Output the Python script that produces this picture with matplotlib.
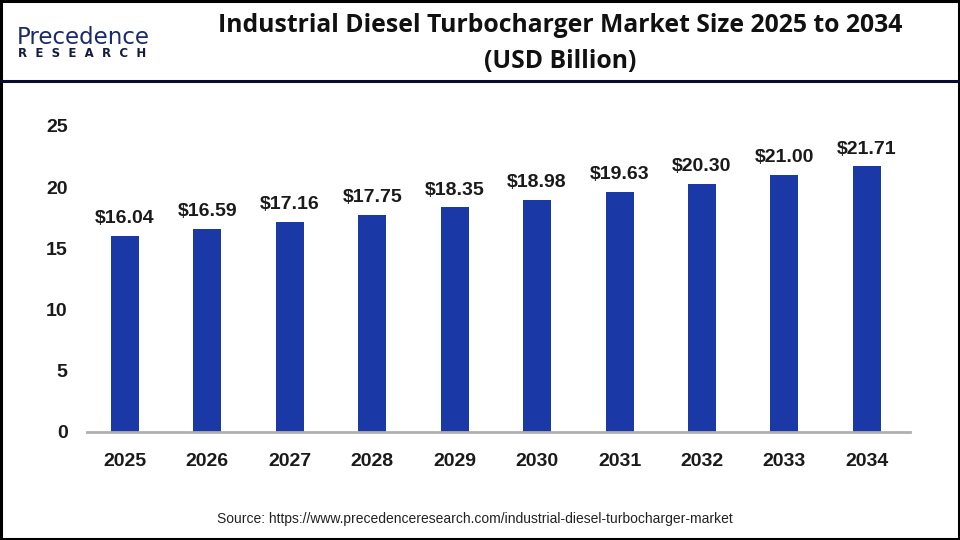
import matplotlib
matplotlib.use("Agg")
import matplotlib.pyplot as plt
from matplotlib.patches import Rectangle
from matplotlib.lines import Line2D

years = ["2025", "2026", "2027", "2028", "2029", "2030", "2031", "2032", "2033", "2034"]
values = [16.04, 16.59, 17.16, 17.75, 18.35, 18.98, 19.63, 20.30, 21.00, 21.71]
yticks = [0, 5, 10, 15, 20, 25]

title = "Industrial Diesel Turbocharger Market Size 2025 to 2034\n(USD Billion)"
source = "Source: https://www.precedenceresearch.com/industrial-diesel-turbocharger-market"

fig = plt.figure(figsize=(9.6, 5.4), dpi=100)
fig.patch.set_facecolor("white")

ax = fig.add_axes([0.0906, 0.2, 0.857, 0.5667])
x = list(range(len(years)))
ax.bar(x, values, width=0.34, color="#1b39a6", zorder=2)
ax.set_xlim(-0.46, 9.52)
ax.set_ylim(0, 25)
ax.set_yticks(yticks)
ax.set_xticks(x)
ax.set_xticklabels(years)
for s in ["top", "right", "left"]:
    ax.spines[s].set_visible(False)
ax.spines["bottom"].set_color("#b0b0b0")
ax.spines["bottom"].set_linewidth(2)
ax.tick_params(axis="both", length=0)
ax.tick_params(axis="x", pad=15)
ax.tick_params(axis="y", pad=14)
for lab in ax.get_xticklabels() + ax.get_yticklabels():
    lab.set_fontfamily("Liberation Sans")
    lab.set_fontweight("bold")
    lab.set_fontsize(14)
    lab.set_color("#1a1a1a")
for xi, v in zip(x, values):
    ax.text(xi, v + 0.7, f"${v:.2f}", ha="center", va="bottom",
            fontsize=14, fontweight="bold", family="Liberation Sans", color="#1a1a1a")

fig.text(0.584, 0.975, title, ha="center", va="top", fontsize=17.8,
         fontweight="bold", family="Open Sans", color="#111111", linespacing=1.55)

fig.text(0.495, 0.038, source, ha="center", va="center", fontsize=10,
         family="Liberation Sans", color="#222222")

# logo
fig.text(0.017, 0.931, "Precedence", ha="left", va="center", fontsize=16.5,
         family="DejaVu Sans", color="#1b2a6b")
fig.text(0.019, 0.901, "R  E  S  E  A  R  C  H", ha="left", va="center", fontsize=8.5,
         fontweight="bold", family="DejaVu Sans", color="#141a40")

# header separator and border
fig.add_artist(Line2D([0, 1], [0.85, 0.85], transform=fig.transFigure,
                      color="#0b0b30", linewidth=2.2))
fig.add_artist(Rectangle((0.001, 0.002), 0.998, 0.996, transform=fig.transFigure,
                         fill=False, edgecolor="black", linewidth=2.2))

fig.savefig("out.png", dpi=100, facecolor="white")
